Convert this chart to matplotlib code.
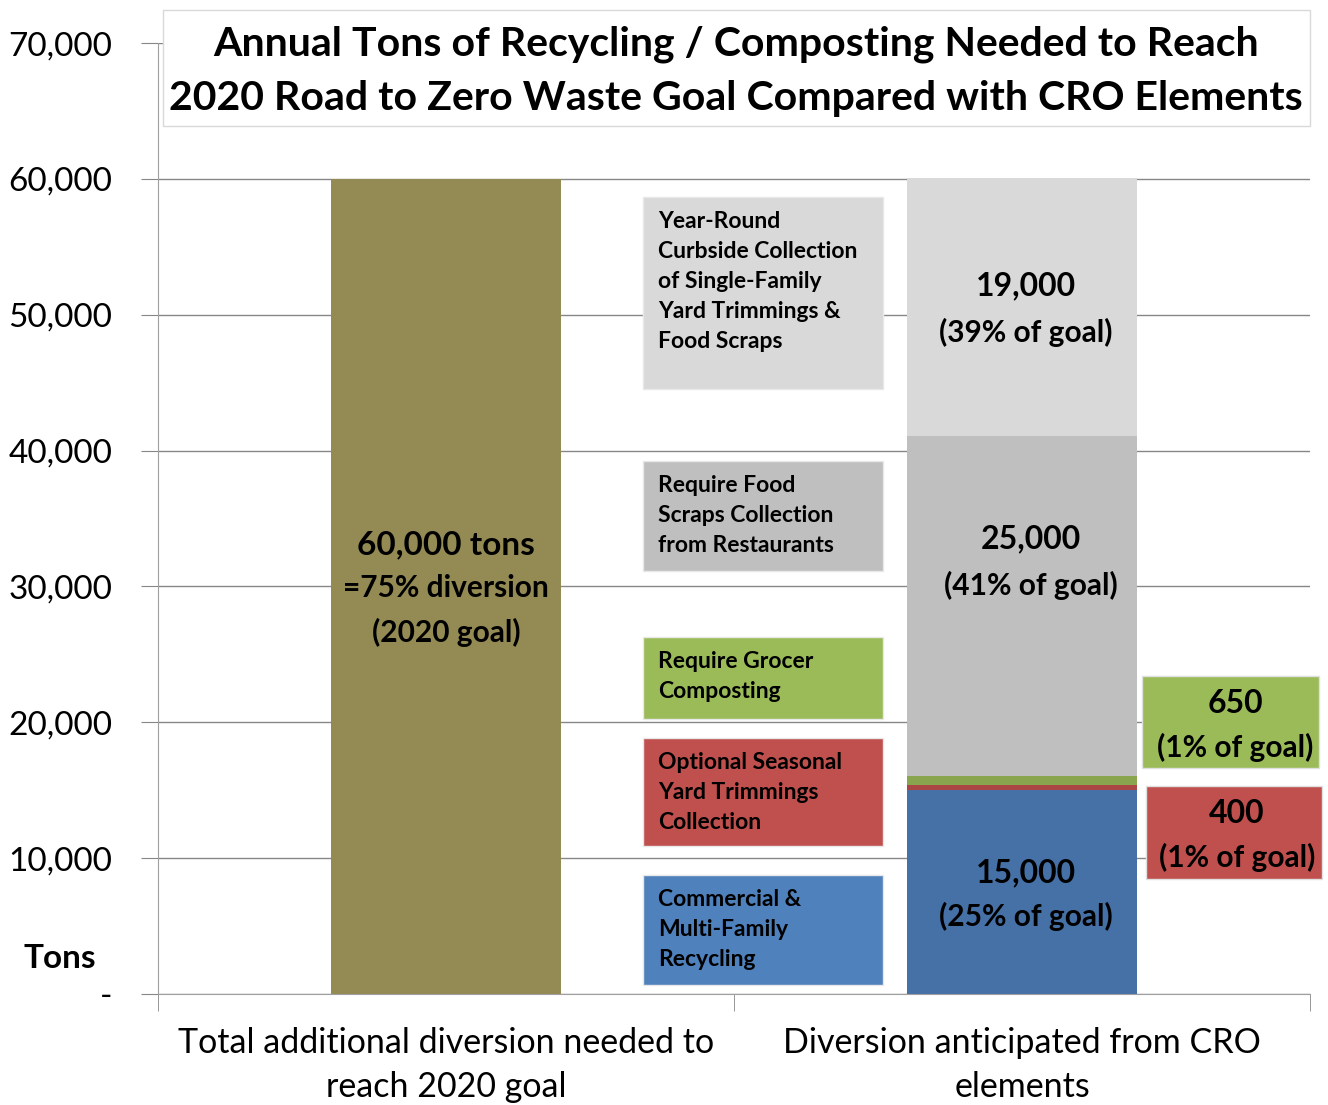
import matplotlib.pyplot as plt
from matplotlib.patches import Rectangle

plt.rcParams['font.family'] = ['Lato', 'DejaVu Sans']

categories = ['Total additional diversion needed to\nreach 2020 goal',
              'Diversion anticipated from CRO\nelements']
goal_tons = 60000
cro_names = ['Commercial &\nMulti-Family\nRecycling',
             'Optional Seasonal\nYard Trimmings\nCollection',
             'Require Grocer\nComposting',
             'Require Food\nScraps Collection\nfrom Restaurants',
             'Year-Round\nCurbside Collection\nof Single-Family\nYard Trimmings &\nFood Scraps']
cro_tons = [15000, 400, 650, 25000, 19000]
cro_pct = [25, 1, 1, 41, 39]

bar_cols = ['#4571A7', '#AA4643', '#89A54E', '#BFBFBF', '#D9D9D9']
box_cols = ['#4F81BD', '#C0504D', '#9BBB59', '#BFBFBF', '#D9D9D9']
# label box extents (bottom, top) in tons
box_y = [(660, 8760), (10890, 18840), (20240, 26270), (31130, 39220), (44520, 58650)]

fig = plt.figure(figsize=(13.28, 11.05), dpi=100)
ax = fig.add_axes([0.119, 0.1005, 0.8675, 0.8605])

ax.bar(0, goal_tons, width=0.4, color='#948A54', zorder=2)
bottom = 0
for t, c in zip(cro_tons, bar_cols):
    ax.bar(1, t, width=0.4, bottom=bottom, color=c, zorder=2)
    bottom += t

ax.set_xlim(-0.5, 1.5)
ax.set_ylim(0, 70000)
ax.set_yticks(range(0, 70001, 10000))
ax.set_yticklabels(['-'] + ['{:,}'.format(v) for v in range(10000, 70001, 10000)])
ax.set_xticks([0, 1])
ax.set_xticklabels(categories, linespacing=1.45)
ax.set_xticks([-0.5, 0.5, 1.5], minor=True)
ax.tick_params(axis='x', which='major', length=0, labelsize=24.5, pad=24)
ax.tick_params(axis='x', which='minor', length=12, color='#868686', direction='out')
ax.tick_params(axis='y', length=12, color='#868686', labelsize=24, pad=21)
ax.grid(axis='y', color='#868686', linewidth=1, zorder=0)
for s in ['top', 'right']:
    ax.spines[s].set_visible(False)
for s in ['left', 'bottom']:
    ax.spines[s].set_color('#A0A0A0')

# in-bar labels
ax.text(0, 33040, '60,000 tons', ha='center', va='center', fontsize=24, fontweight='bold', zorder=3)
ax.text(0, 29870, '=75% diversion', ha='center', va='center', fontsize=21.5, fontweight='bold', zorder=3)
ax.text(0, 26640, '(2020 goal)', ha='center', va='center', fontsize=21.5, fontweight='bold', zorder=3)

# (x, y of value, y of percent)
val_pos = {0: (1.007, 8900, 5670), 3: (1.016, 33480, 30100), 4: (1.007, 52100, 48710),
           1: (1.373, 13320, 10080), 2: (1.37, 21410, 18170)}
for i, (x, yv, yp) in val_pos.items():
    ax.text(x, yv, '{:,}'.format(cro_tons[i]), ha='center', va='center', fontsize=23,
            fontweight='bold', clip_on=False, zorder=4)
    ax.text(x, yp, '({}% of goal)'.format(cro_pct[i]), ha='center', va='center', fontsize=21.5,
            fontweight='bold', clip_on=False, zorder=4)

# small segments get boxes to the right
side = {1: (1.215, 1.521, 8460, 15300), 2: (1.208, 1.516, 16630, 23400)}
for i, (x0, x1, y0, y1) in side.items():
    ax.add_patch(Rectangle((x0, y0), x1 - x0, y1 - y0, facecolor=box_cols[i], edgecolor='#E0E0E0',
                           clip_on=False, zorder=3))

# description boxes
for name, c, (y0, y1) in zip(cro_names, box_cols, box_y):
    ax.add_patch(Rectangle((0.342, y0), 0.417, y1 - y0, facecolor=c, edgecolor='#E8E8E8', zorder=3))
    ax.text(0.368, y1 - 1040, name, ha='left', va='top', fontsize=16.5, fontweight='bold',
            linespacing=1.52, zorder=4)

# tons label
fig.text(60 / 1328, 1 - 958 / 1105, 'Tons', fontsize=24, fontweight='bold',
         ha='center', va='center')

# title box
fig.patches.append(Rectangle((163 / 1328, 1 - 126 / 1105), (1310 - 163) / 1328, 116 / 1105,
                             transform=fig.transFigure, facecolor='white', edgecolor='#D9D9D9',
                             zorder=5))
fig.text(736 / 1328, 1 - 71 / 1105,
         'Annual Tons of Recycling / Composting Needed to Reach\n'
         '2020 Road to Zero Waste Goal Compared with CRO Elements',
         ha='center', va='center', fontsize=29.5, fontweight='bold', linespacing=1.58, zorder=6)

fig.savefig('out.png', dpi=100)
